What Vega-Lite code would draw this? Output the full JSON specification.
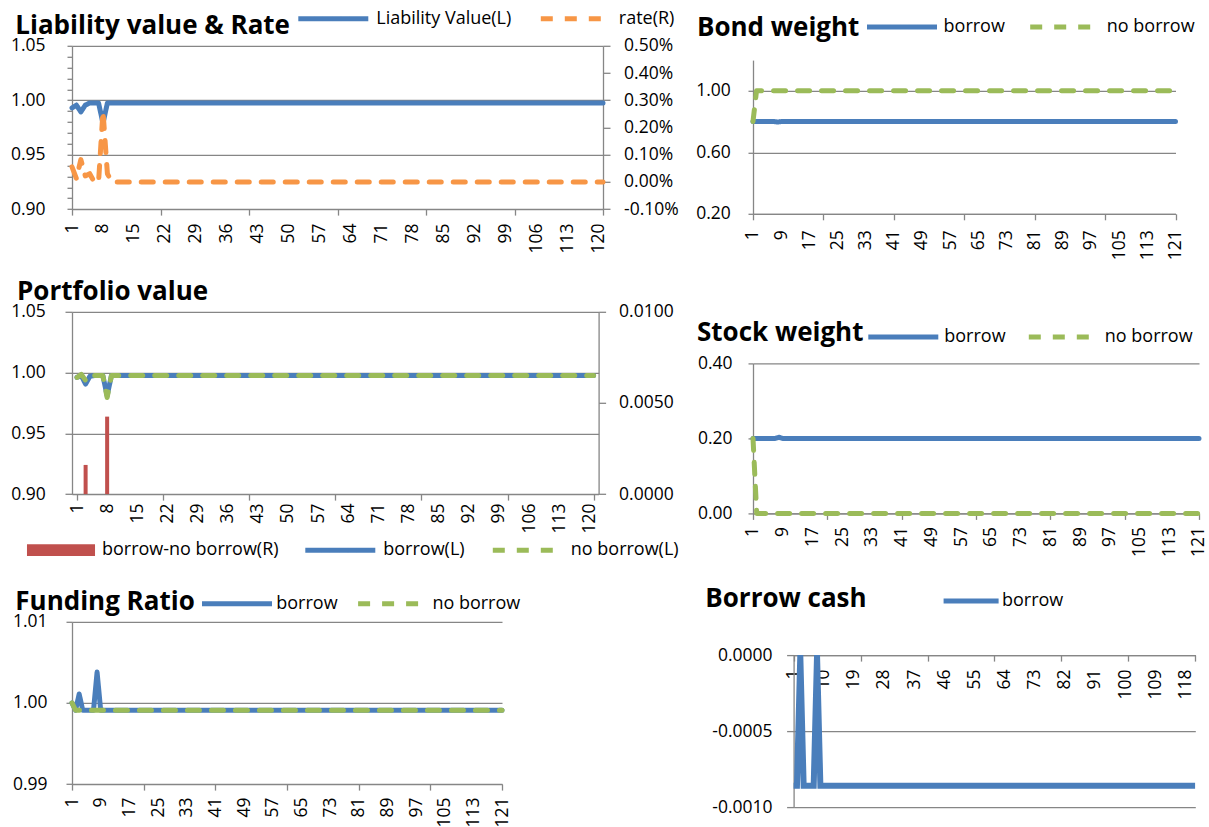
{
  "$schema": "https://vega.github.io/schema/vega-lite/v6.json",
  "background": "white",
  "padding": {"left": 10, "top": 8.8, "right": 0, "bottom": 0},
  "config": {
    "font": "Open Sans",
    "view": {"stroke": null},
    "axis": {"domainColor": "#868686", "tickColor": "#868686", "gridColor": "#868686", "domainWidth": 1.3, "tickWidth": 1.3, "gridWidth": 1.3, "labelColor": "#000000", "labelFont": "Open Sans", "labelFontSize": 17.5, "labelOverlap": false},
    "legend": {"labelColor": "#000000", "labelFont": "Open Sans", "labelFontSize": 18, "labelLimit": 0, "padding": 0, "direction": "horizontal", "orient": "none"},
    "title": {"font": "Open Sans", "fontSize": 26, "fontWeight": "bold", "color": "#000000", "anchor": "start", "frame": "group"}
  },
  "datasets": {
    "d": [
      {"t":1,"lv":0.993,"r":0.00055,"pb":0.996,"pn":0.996,"bb":0.8,"bn":0.8,"sb":0.2,"sn":0.2,"fb":1,"fn":1,"cb":-0.00086},
      {"t":2,"lv":0.9955,"r":0.00012,"pb":0.9975,"pn":0.9985,"bb":0.8,"bn":1,"sb":0.2,"sn":0,"fb":0.9991,"fn":0.9991,"cb":-0.00086},
      {"t":3,"lv":0.9893,"r":0.00082,"pb":0.9905,"pn":0.9935,"pd":0.0016,"bb":0.8,"bn":1,"sb":0.2,"sn":0,"fb":1.0011,"fn":0.9991,"cb":0},
      {"t":4,"lv":0.9955,"r":0.00022,"pb":0.997,"pn":0.9975,"bb":0.8,"bn":1,"sb":0.2,"sn":0,"fb":0.9991,"fn":0.9991,"cb":-0.00086},
      {"t":5,"lv":0.9975,"r":0.0003,"pb":0.9975,"pn":0.9975,"bb":0.8,"bn":1,"sb":0.2,"sn":0,"fb":0.9991,"fn":0.9991,"cb":-0.00086},
      {"t":6,"lv":0.9975,"r":0,"pb":0.9975,"pn":0.9975,"bb":0.8,"bn":1,"sb":0.2,"sn":0,"fb":0.9991,"fn":0.9991,"cb":-0.00086},
      {"t":7,"lv":0.9975,"r":0,"pb":0.9975,"pn":0.9975,"bb":0.8,"bn":1,"sb":0.2,"sn":0,"fb":0.9991,"fn":0.9991,"cb":-0.00086},
      {"t":8,"lv":0.9788,"r":0.0026,"pb":0.981,"pn":0.9795,"pd":0.00425,"bb":0.797,"bn":1,"sb":0.203,"sn":0,"fb":1.0038,"fn":0.9991,"cb":0},
      {"t":9,"lv":0.9975,"r":0.0003,"pb":0.9975,"pn":0.9975,"bb":0.8,"bn":1,"sb":0.2,"sn":0,"fb":0.9991,"fn":0.9991,"cb":-0.00086},
      {"t":10,"lv":0.9975,"r":0,"pb":0.9975,"pn":0.9975,"bb":0.8,"bn":1,"sb":0.2,"sn":0,"fb":0.9991,"fn":0.9991,"cb":-0.00086},
      {"t":11,"lv":0.9975,"r":0,"pb":0.9975,"pn":0.9975,"bb":0.8,"bn":1,"sb":0.2,"sn":0,"fb":0.9991,"fn":0.9991,"cb":-0.00086},
      {"t":12,"lv":0.9975,"r":0,"pb":0.9975,"pn":0.9975,"bb":0.8,"bn":1,"sb":0.2,"sn":0,"fb":0.9991,"fn":0.9991,"cb":-0.00086},
      {"t":13,"lv":0.9975,"r":0,"pb":0.9975,"pn":0.9975,"bb":0.8,"bn":1,"sb":0.2,"sn":0,"fb":0.9991,"fn":0.9991,"cb":-0.00086},
      {"t":14,"lv":0.9975,"r":0,"pb":0.9975,"pn":0.9975,"bb":0.8,"bn":1,"sb":0.2,"sn":0,"fb":0.9991,"fn":0.9991,"cb":-0.00086},
      {"t":15,"lv":0.9975,"r":0,"pb":0.9975,"pn":0.9975,"bb":0.8,"bn":1,"sb":0.2,"sn":0,"fb":0.9991,"fn":0.9991,"cb":-0.00086},
      {"t":16,"lv":0.9975,"r":0,"pb":0.9975,"pn":0.9975,"bb":0.8,"bn":1,"sb":0.2,"sn":0,"fb":0.9991,"fn":0.9991,"cb":-0.00086},
      {"t":17,"lv":0.9975,"r":0,"pb":0.9975,"pn":0.9975,"bb":0.8,"bn":1,"sb":0.2,"sn":0,"fb":0.9991,"fn":0.9991,"cb":-0.00086},
      {"t":18,"lv":0.9975,"r":0,"pb":0.9975,"pn":0.9975,"bb":0.8,"bn":1,"sb":0.2,"sn":0,"fb":0.9991,"fn":0.9991,"cb":-0.00086},
      {"t":19,"lv":0.9975,"r":0,"pb":0.9975,"pn":0.9975,"bb":0.8,"bn":1,"sb":0.2,"sn":0,"fb":0.9991,"fn":0.9991,"cb":-0.00086},
      {"t":20,"lv":0.9975,"r":0,"pb":0.9975,"pn":0.9975,"bb":0.8,"bn":1,"sb":0.2,"sn":0,"fb":0.9991,"fn":0.9991,"cb":-0.00086},
      {"t":21,"lv":0.9975,"r":0,"pb":0.9975,"pn":0.9975,"bb":0.8,"bn":1,"sb":0.2,"sn":0,"fb":0.9991,"fn":0.9991,"cb":-0.00086},
      {"t":22,"lv":0.9975,"r":0,"pb":0.9975,"pn":0.9975,"bb":0.8,"bn":1,"sb":0.2,"sn":0,"fb":0.9991,"fn":0.9991,"cb":-0.00086},
      {"t":23,"lv":0.9975,"r":0,"pb":0.9975,"pn":0.9975,"bb":0.8,"bn":1,"sb":0.2,"sn":0,"fb":0.9991,"fn":0.9991,"cb":-0.00086},
      {"t":24,"lv":0.9975,"r":0,"pb":0.9975,"pn":0.9975,"bb":0.8,"bn":1,"sb":0.2,"sn":0,"fb":0.9991,"fn":0.9991,"cb":-0.00086},
      {"t":25,"lv":0.9975,"r":0,"pb":0.9975,"pn":0.9975,"bb":0.8,"bn":1,"sb":0.2,"sn":0,"fb":0.9991,"fn":0.9991,"cb":-0.00086},
      {"t":26,"lv":0.9975,"r":0,"pb":0.9975,"pn":0.9975,"bb":0.8,"bn":1,"sb":0.2,"sn":0,"fb":0.9991,"fn":0.9991,"cb":-0.00086},
      {"t":27,"lv":0.9975,"r":0,"pb":0.9975,"pn":0.9975,"bb":0.8,"bn":1,"sb":0.2,"sn":0,"fb":0.9991,"fn":0.9991,"cb":-0.00086},
      {"t":28,"lv":0.9975,"r":0,"pb":0.9975,"pn":0.9975,"bb":0.8,"bn":1,"sb":0.2,"sn":0,"fb":0.9991,"fn":0.9991,"cb":-0.00086},
      {"t":29,"lv":0.9975,"r":0,"pb":0.9975,"pn":0.9975,"bb":0.8,"bn":1,"sb":0.2,"sn":0,"fb":0.9991,"fn":0.9991,"cb":-0.00086},
      {"t":30,"lv":0.9975,"r":0,"pb":0.9975,"pn":0.9975,"bb":0.8,"bn":1,"sb":0.2,"sn":0,"fb":0.9991,"fn":0.9991,"cb":-0.00086},
      {"t":31,"lv":0.9975,"r":0,"pb":0.9975,"pn":0.9975,"bb":0.8,"bn":1,"sb":0.2,"sn":0,"fb":0.9991,"fn":0.9991,"cb":-0.00086},
      {"t":32,"lv":0.9975,"r":0,"pb":0.9975,"pn":0.9975,"bb":0.8,"bn":1,"sb":0.2,"sn":0,"fb":0.9991,"fn":0.9991,"cb":-0.00086},
      {"t":33,"lv":0.9975,"r":0,"pb":0.9975,"pn":0.9975,"bb":0.8,"bn":1,"sb":0.2,"sn":0,"fb":0.9991,"fn":0.9991,"cb":-0.00086},
      {"t":34,"lv":0.9975,"r":0,"pb":0.9975,"pn":0.9975,"bb":0.8,"bn":1,"sb":0.2,"sn":0,"fb":0.9991,"fn":0.9991,"cb":-0.00086},
      {"t":35,"lv":0.9975,"r":0,"pb":0.9975,"pn":0.9975,"bb":0.8,"bn":1,"sb":0.2,"sn":0,"fb":0.9991,"fn":0.9991,"cb":-0.00086},
      {"t":36,"lv":0.9975,"r":0,"pb":0.9975,"pn":0.9975,"bb":0.8,"bn":1,"sb":0.2,"sn":0,"fb":0.9991,"fn":0.9991,"cb":-0.00086},
      {"t":37,"lv":0.9975,"r":0,"pb":0.9975,"pn":0.9975,"bb":0.8,"bn":1,"sb":0.2,"sn":0,"fb":0.9991,"fn":0.9991,"cb":-0.00086},
      {"t":38,"lv":0.9975,"r":0,"pb":0.9975,"pn":0.9975,"bb":0.8,"bn":1,"sb":0.2,"sn":0,"fb":0.9991,"fn":0.9991,"cb":-0.00086},
      {"t":39,"lv":0.9975,"r":0,"pb":0.9975,"pn":0.9975,"bb":0.8,"bn":1,"sb":0.2,"sn":0,"fb":0.9991,"fn":0.9991,"cb":-0.00086},
      {"t":40,"lv":0.9975,"r":0,"pb":0.9975,"pn":0.9975,"bb":0.8,"bn":1,"sb":0.2,"sn":0,"fb":0.9991,"fn":0.9991,"cb":-0.00086},
      {"t":41,"lv":0.9975,"r":0,"pb":0.9975,"pn":0.9975,"bb":0.8,"bn":1,"sb":0.2,"sn":0,"fb":0.9991,"fn":0.9991,"cb":-0.00086},
      {"t":42,"lv":0.9975,"r":0,"pb":0.9975,"pn":0.9975,"bb":0.8,"bn":1,"sb":0.2,"sn":0,"fb":0.9991,"fn":0.9991,"cb":-0.00086},
      {"t":43,"lv":0.9975,"r":0,"pb":0.9975,"pn":0.9975,"bb":0.8,"bn":1,"sb":0.2,"sn":0,"fb":0.9991,"fn":0.9991,"cb":-0.00086},
      {"t":44,"lv":0.9975,"r":0,"pb":0.9975,"pn":0.9975,"bb":0.8,"bn":1,"sb":0.2,"sn":0,"fb":0.9991,"fn":0.9991,"cb":-0.00086},
      {"t":45,"lv":0.9975,"r":0,"pb":0.9975,"pn":0.9975,"bb":0.8,"bn":1,"sb":0.2,"sn":0,"fb":0.9991,"fn":0.9991,"cb":-0.00086},
      {"t":46,"lv":0.9975,"r":0,"pb":0.9975,"pn":0.9975,"bb":0.8,"bn":1,"sb":0.2,"sn":0,"fb":0.9991,"fn":0.9991,"cb":-0.00086},
      {"t":47,"lv":0.9975,"r":0,"pb":0.9975,"pn":0.9975,"bb":0.8,"bn":1,"sb":0.2,"sn":0,"fb":0.9991,"fn":0.9991,"cb":-0.00086},
      {"t":48,"lv":0.9975,"r":0,"pb":0.9975,"pn":0.9975,"bb":0.8,"bn":1,"sb":0.2,"sn":0,"fb":0.9991,"fn":0.9991,"cb":-0.00086},
      {"t":49,"lv":0.9975,"r":0,"pb":0.9975,"pn":0.9975,"bb":0.8,"bn":1,"sb":0.2,"sn":0,"fb":0.9991,"fn":0.9991,"cb":-0.00086},
      {"t":50,"lv":0.9975,"r":0,"pb":0.9975,"pn":0.9975,"bb":0.8,"bn":1,"sb":0.2,"sn":0,"fb":0.9991,"fn":0.9991,"cb":-0.00086},
      {"t":51,"lv":0.9975,"r":0,"pb":0.9975,"pn":0.9975,"bb":0.8,"bn":1,"sb":0.2,"sn":0,"fb":0.9991,"fn":0.9991,"cb":-0.00086},
      {"t":52,"lv":0.9975,"r":0,"pb":0.9975,"pn":0.9975,"bb":0.8,"bn":1,"sb":0.2,"sn":0,"fb":0.9991,"fn":0.9991,"cb":-0.00086},
      {"t":53,"lv":0.9975,"r":0,"pb":0.9975,"pn":0.9975,"bb":0.8,"bn":1,"sb":0.2,"sn":0,"fb":0.9991,"fn":0.9991,"cb":-0.00086},
      {"t":54,"lv":0.9975,"r":0,"pb":0.9975,"pn":0.9975,"bb":0.8,"bn":1,"sb":0.2,"sn":0,"fb":0.9991,"fn":0.9991,"cb":-0.00086},
      {"t":55,"lv":0.9975,"r":0,"pb":0.9975,"pn":0.9975,"bb":0.8,"bn":1,"sb":0.2,"sn":0,"fb":0.9991,"fn":0.9991,"cb":-0.00086},
      {"t":56,"lv":0.9975,"r":0,"pb":0.9975,"pn":0.9975,"bb":0.8,"bn":1,"sb":0.2,"sn":0,"fb":0.9991,"fn":0.9991,"cb":-0.00086},
      {"t":57,"lv":0.9975,"r":0,"pb":0.9975,"pn":0.9975,"bb":0.8,"bn":1,"sb":0.2,"sn":0,"fb":0.9991,"fn":0.9991,"cb":-0.00086},
      {"t":58,"lv":0.9975,"r":0,"pb":0.9975,"pn":0.9975,"bb":0.8,"bn":1,"sb":0.2,"sn":0,"fb":0.9991,"fn":0.9991,"cb":-0.00086},
      {"t":59,"lv":0.9975,"r":0,"pb":0.9975,"pn":0.9975,"bb":0.8,"bn":1,"sb":0.2,"sn":0,"fb":0.9991,"fn":0.9991,"cb":-0.00086},
      {"t":60,"lv":0.9975,"r":0,"pb":0.9975,"pn":0.9975,"bb":0.8,"bn":1,"sb":0.2,"sn":0,"fb":0.9991,"fn":0.9991,"cb":-0.00086},
      {"t":61,"lv":0.9975,"r":0,"pb":0.9975,"pn":0.9975,"bb":0.8,"bn":1,"sb":0.2,"sn":0,"fb":0.9991,"fn":0.9991,"cb":-0.00086},
      {"t":62,"lv":0.9975,"r":0,"pb":0.9975,"pn":0.9975,"bb":0.8,"bn":1,"sb":0.2,"sn":0,"fb":0.9991,"fn":0.9991,"cb":-0.00086},
      {"t":63,"lv":0.9975,"r":0,"pb":0.9975,"pn":0.9975,"bb":0.8,"bn":1,"sb":0.2,"sn":0,"fb":0.9991,"fn":0.9991,"cb":-0.00086},
      {"t":64,"lv":0.9975,"r":0,"pb":0.9975,"pn":0.9975,"bb":0.8,"bn":1,"sb":0.2,"sn":0,"fb":0.9991,"fn":0.9991,"cb":-0.00086},
      {"t":65,"lv":0.9975,"r":0,"pb":0.9975,"pn":0.9975,"bb":0.8,"bn":1,"sb":0.2,"sn":0,"fb":0.9991,"fn":0.9991,"cb":-0.00086},
      {"t":66,"lv":0.9975,"r":0,"pb":0.9975,"pn":0.9975,"bb":0.8,"bn":1,"sb":0.2,"sn":0,"fb":0.9991,"fn":0.9991,"cb":-0.00086},
      {"t":67,"lv":0.9975,"r":0,"pb":0.9975,"pn":0.9975,"bb":0.8,"bn":1,"sb":0.2,"sn":0,"fb":0.9991,"fn":0.9991,"cb":-0.00086},
      {"t":68,"lv":0.9975,"r":0,"pb":0.9975,"pn":0.9975,"bb":0.8,"bn":1,"sb":0.2,"sn":0,"fb":0.9991,"fn":0.9991,"cb":-0.00086},
      {"t":69,"lv":0.9975,"r":0,"pb":0.9975,"pn":0.9975,"bb":0.8,"bn":1,"sb":0.2,"sn":0,"fb":0.9991,"fn":0.9991,"cb":-0.00086},
      {"t":70,"lv":0.9975,"r":0,"pb":0.9975,"pn":0.9975,"bb":0.8,"bn":1,"sb":0.2,"sn":0,"fb":0.9991,"fn":0.9991,"cb":-0.00086},
      {"t":71,"lv":0.9975,"r":0,"pb":0.9975,"pn":0.9975,"bb":0.8,"bn":1,"sb":0.2,"sn":0,"fb":0.9991,"fn":0.9991,"cb":-0.00086},
      {"t":72,"lv":0.9975,"r":0,"pb":0.9975,"pn":0.9975,"bb":0.8,"bn":1,"sb":0.2,"sn":0,"fb":0.9991,"fn":0.9991,"cb":-0.00086},
      {"t":73,"lv":0.9975,"r":0,"pb":0.9975,"pn":0.9975,"bb":0.8,"bn":1,"sb":0.2,"sn":0,"fb":0.9991,"fn":0.9991,"cb":-0.00086},
      {"t":74,"lv":0.9975,"r":0,"pb":0.9975,"pn":0.9975,"bb":0.8,"bn":1,"sb":0.2,"sn":0,"fb":0.9991,"fn":0.9991,"cb":-0.00086},
      {"t":75,"lv":0.9975,"r":0,"pb":0.9975,"pn":0.9975,"bb":0.8,"bn":1,"sb":0.2,"sn":0,"fb":0.9991,"fn":0.9991,"cb":-0.00086},
      {"t":76,"lv":0.9975,"r":0,"pb":0.9975,"pn":0.9975,"bb":0.8,"bn":1,"sb":0.2,"sn":0,"fb":0.9991,"fn":0.9991,"cb":-0.00086},
      {"t":77,"lv":0.9975,"r":0,"pb":0.9975,"pn":0.9975,"bb":0.8,"bn":1,"sb":0.2,"sn":0,"fb":0.9991,"fn":0.9991,"cb":-0.00086},
      {"t":78,"lv":0.9975,"r":0,"pb":0.9975,"pn":0.9975,"bb":0.8,"bn":1,"sb":0.2,"sn":0,"fb":0.9991,"fn":0.9991,"cb":-0.00086},
      {"t":79,"lv":0.9975,"r":0,"pb":0.9975,"pn":0.9975,"bb":0.8,"bn":1,"sb":0.2,"sn":0,"fb":0.9991,"fn":0.9991,"cb":-0.00086},
      {"t":80,"lv":0.9975,"r":0,"pb":0.9975,"pn":0.9975,"bb":0.8,"bn":1,"sb":0.2,"sn":0,"fb":0.9991,"fn":0.9991,"cb":-0.00086},
      {"t":81,"lv":0.9975,"r":0,"pb":0.9975,"pn":0.9975,"bb":0.8,"bn":1,"sb":0.2,"sn":0,"fb":0.9991,"fn":0.9991,"cb":-0.00086},
      {"t":82,"lv":0.9975,"r":0,"pb":0.9975,"pn":0.9975,"bb":0.8,"bn":1,"sb":0.2,"sn":0,"fb":0.9991,"fn":0.9991,"cb":-0.00086},
      {"t":83,"lv":0.9975,"r":0,"pb":0.9975,"pn":0.9975,"bb":0.8,"bn":1,"sb":0.2,"sn":0,"fb":0.9991,"fn":0.9991,"cb":-0.00086},
      {"t":84,"lv":0.9975,"r":0,"pb":0.9975,"pn":0.9975,"bb":0.8,"bn":1,"sb":0.2,"sn":0,"fb":0.9991,"fn":0.9991,"cb":-0.00086},
      {"t":85,"lv":0.9975,"r":0,"pb":0.9975,"pn":0.9975,"bb":0.8,"bn":1,"sb":0.2,"sn":0,"fb":0.9991,"fn":0.9991,"cb":-0.00086},
      {"t":86,"lv":0.9975,"r":0,"pb":0.9975,"pn":0.9975,"bb":0.8,"bn":1,"sb":0.2,"sn":0,"fb":0.9991,"fn":0.9991,"cb":-0.00086},
      {"t":87,"lv":0.9975,"r":0,"pb":0.9975,"pn":0.9975,"bb":0.8,"bn":1,"sb":0.2,"sn":0,"fb":0.9991,"fn":0.9991,"cb":-0.00086},
      {"t":88,"lv":0.9975,"r":0,"pb":0.9975,"pn":0.9975,"bb":0.8,"bn":1,"sb":0.2,"sn":0,"fb":0.9991,"fn":0.9991,"cb":-0.00086},
      {"t":89,"lv":0.9975,"r":0,"pb":0.9975,"pn":0.9975,"bb":0.8,"bn":1,"sb":0.2,"sn":0,"fb":0.9991,"fn":0.9991,"cb":-0.00086},
      {"t":90,"lv":0.9975,"r":0,"pb":0.9975,"pn":0.9975,"bb":0.8,"bn":1,"sb":0.2,"sn":0,"fb":0.9991,"fn":0.9991,"cb":-0.00086},
      {"t":91,"lv":0.9975,"r":0,"pb":0.9975,"pn":0.9975,"bb":0.8,"bn":1,"sb":0.2,"sn":0,"fb":0.9991,"fn":0.9991,"cb":-0.00086},
      {"t":92,"lv":0.9975,"r":0,"pb":0.9975,"pn":0.9975,"bb":0.8,"bn":1,"sb":0.2,"sn":0,"fb":0.9991,"fn":0.9991,"cb":-0.00086},
      {"t":93,"lv":0.9975,"r":0,"pb":0.9975,"pn":0.9975,"bb":0.8,"bn":1,"sb":0.2,"sn":0,"fb":0.9991,"fn":0.9991,"cb":-0.00086},
      {"t":94,"lv":0.9975,"r":0,"pb":0.9975,"pn":0.9975,"bb":0.8,"bn":1,"sb":0.2,"sn":0,"fb":0.9991,"fn":0.9991,"cb":-0.00086},
      {"t":95,"lv":0.9975,"r":0,"pb":0.9975,"pn":0.9975,"bb":0.8,"bn":1,"sb":0.2,"sn":0,"fb":0.9991,"fn":0.9991,"cb":-0.00086},
      {"t":96,"lv":0.9975,"r":0,"pb":0.9975,"pn":0.9975,"bb":0.8,"bn":1,"sb":0.2,"sn":0,"fb":0.9991,"fn":0.9991,"cb":-0.00086},
      {"t":97,"lv":0.9975,"r":0,"pb":0.9975,"pn":0.9975,"bb":0.8,"bn":1,"sb":0.2,"sn":0,"fb":0.9991,"fn":0.9991,"cb":-0.00086},
      {"t":98,"lv":0.9975,"r":0,"pb":0.9975,"pn":0.9975,"bb":0.8,"bn":1,"sb":0.2,"sn":0,"fb":0.9991,"fn":0.9991,"cb":-0.00086},
      {"t":99,"lv":0.9975,"r":0,"pb":0.9975,"pn":0.9975,"bb":0.8,"bn":1,"sb":0.2,"sn":0,"fb":0.9991,"fn":0.9991,"cb":-0.00086},
      {"t":100,"lv":0.9975,"r":0,"pb":0.9975,"pn":0.9975,"bb":0.8,"bn":1,"sb":0.2,"sn":0,"fb":0.9991,"fn":0.9991,"cb":-0.00086},
      {"t":101,"lv":0.9975,"r":0,"pb":0.9975,"pn":0.9975,"bb":0.8,"bn":1,"sb":0.2,"sn":0,"fb":0.9991,"fn":0.9991,"cb":-0.00086},
      {"t":102,"lv":0.9975,"r":0,"pb":0.9975,"pn":0.9975,"bb":0.8,"bn":1,"sb":0.2,"sn":0,"fb":0.9991,"fn":0.9991,"cb":-0.00086},
      {"t":103,"lv":0.9975,"r":0,"pb":0.9975,"pn":0.9975,"bb":0.8,"bn":1,"sb":0.2,"sn":0,"fb":0.9991,"fn":0.9991,"cb":-0.00086},
      {"t":104,"lv":0.9975,"r":0,"pb":0.9975,"pn":0.9975,"bb":0.8,"bn":1,"sb":0.2,"sn":0,"fb":0.9991,"fn":0.9991,"cb":-0.00086},
      {"t":105,"lv":0.9975,"r":0,"pb":0.9975,"pn":0.9975,"bb":0.8,"bn":1,"sb":0.2,"sn":0,"fb":0.9991,"fn":0.9991,"cb":-0.00086},
      {"t":106,"lv":0.9975,"r":0,"pb":0.9975,"pn":0.9975,"bb":0.8,"bn":1,"sb":0.2,"sn":0,"fb":0.9991,"fn":0.9991,"cb":-0.00086},
      {"t":107,"lv":0.9975,"r":0,"pb":0.9975,"pn":0.9975,"bb":0.8,"bn":1,"sb":0.2,"sn":0,"fb":0.9991,"fn":0.9991,"cb":-0.00086},
      {"t":108,"lv":0.9975,"r":0,"pb":0.9975,"pn":0.9975,"bb":0.8,"bn":1,"sb":0.2,"sn":0,"fb":0.9991,"fn":0.9991,"cb":-0.00086},
      {"t":109,"lv":0.9975,"r":0,"pb":0.9975,"pn":0.9975,"bb":0.8,"bn":1,"sb":0.2,"sn":0,"fb":0.9991,"fn":0.9991,"cb":-0.00086},
      {"t":110,"lv":0.9975,"r":0,"pb":0.9975,"pn":0.9975,"bb":0.8,"bn":1,"sb":0.2,"sn":0,"fb":0.9991,"fn":0.9991,"cb":-0.00086},
      {"t":111,"lv":0.9975,"r":0,"pb":0.9975,"pn":0.9975,"bb":0.8,"bn":1,"sb":0.2,"sn":0,"fb":0.9991,"fn":0.9991,"cb":-0.00086},
      {"t":112,"lv":0.9975,"r":0,"pb":0.9975,"pn":0.9975,"bb":0.8,"bn":1,"sb":0.2,"sn":0,"fb":0.9991,"fn":0.9991,"cb":-0.00086},
      {"t":113,"lv":0.9975,"r":0,"pb":0.9975,"pn":0.9975,"bb":0.8,"bn":1,"sb":0.2,"sn":0,"fb":0.9991,"fn":0.9991,"cb":-0.00086},
      {"t":114,"lv":0.9975,"r":0,"pb":0.9975,"pn":0.9975,"bb":0.8,"bn":1,"sb":0.2,"sn":0,"fb":0.9991,"fn":0.9991,"cb":-0.00086},
      {"t":115,"lv":0.9975,"r":0,"pb":0.9975,"pn":0.9975,"bb":0.8,"bn":1,"sb":0.2,"sn":0,"fb":0.9991,"fn":0.9991,"cb":-0.00086},
      {"t":116,"lv":0.9975,"r":0,"pb":0.9975,"pn":0.9975,"bb":0.8,"bn":1,"sb":0.2,"sn":0,"fb":0.9991,"fn":0.9991,"cb":-0.00086},
      {"t":117,"lv":0.9975,"r":0,"pb":0.9975,"pn":0.9975,"bb":0.8,"bn":1,"sb":0.2,"sn":0,"fb":0.9991,"fn":0.9991,"cb":-0.00086},
      {"t":118,"lv":0.9975,"r":0,"pb":0.9975,"pn":0.9975,"bb":0.8,"bn":1,"sb":0.2,"sn":0,"fb":0.9991,"fn":0.9991,"cb":-0.00086},
      {"t":119,"lv":0.9975,"r":0,"pb":0.9975,"pn":0.9975,"bb":0.8,"bn":1,"sb":0.2,"sn":0,"fb":0.9991,"fn":0.9991,"cb":-0.00086},
      {"t":120,"lv":0.9975,"r":0,"pb":0.9975,"pn":0.9975,"bb":0.8,"bn":1,"sb":0.2,"sn":0,"fb":0.9991,"fn":0.9991,"cb":-0.00086},
      {"t":121,"lv":0.9975,"r":0,"pb":0.9975,"pn":0.9975,"bb":0.8,"bn":1,"sb":0.2,"sn":0,"fb":0.9991,"fn":0.9991,"cb":-0.00086}
    ]
  },
  "spacing": 14,
  "resolve": {"scale": {"color": "independent", "strokeDash": "independent"}},
  "hconcat": [
    {
      "spacing": 25,
      "resolve": {"scale": {"color": "independent", "strokeDash": "independent"}},
      "vconcat": [
        {
          "width": 531, "height": 163.3,
          "data": {"name": "d"},
          "title": {"text": "Liability value & Rate", "offset": -30, "dx": -56.7},
          "encoding": {
            "x": {"field": "t", "type": "quantitative", "title": null, "scale": {"domain": [1, 121], "nice": false, "zero": false},
              "axis": {"values": [1,8,15,21,22,29,36,41,43,50,57,61,64,71,78,81,85,92,99,101,106,113,120,121], "format": "d", "labelAngle": 270, "labelExpr": "datum.value % 7 == 1 ? datum.label : ''", "tickOpacity": {"condition": {"test": "datum.value % 20 == 1", "value": 1}, "value": 0}, "tickSize": 6, "labelPadding": 8, "grid": false, "labelFlush": false}}
          },
          "layer": [
            {
              "transform": [{"fold": ["lv"], "as": ["k", "v"]}],
              "mark": {"type": "line", "strokeWidth": 5, "strokeCap": "round", "strokeJoin": "round"},
              "encoding": {
                "y": {"field": "v", "type": "quantitative", "title": null, "scale": {"domain": [0.9, 1.05], "nice": false, "zero": false},
                  "axis": {"values": [0.9,0.91,0.92,0.93,0.94,0.95,0.96,0.97,0.98,0.99,1,1.01,1.02,1.03,1.04,1.05], "format": ".2f", "labelExpr": "abs(datum.value*20-round(datum.value*20)) < 0.001 ? datum.label : ''", "grid": true, "gridOpacity": {"condition": {"test": "abs(datum.value*20-round(datum.value*20)) < 0.001", "value": 1}, "value": 0}, "tickSize": 5, "labelPadding": 22, "minExtent": 61.7}},
                "color": {"field": "k", "type": "nominal", "title": null, "scale": {"domain": ["lv", "r"], "range": ["#4A7EBB", "#F79646"]},
                  "legend": {"legendX": 251.8, "legendY": -36.9, "symbolType": "M-5,0H5", "symbolSize": 196, "symbolStrokeWidth": 5, "labelOffset": 33.5, "columnPadding": 18.5, "labelExpr": "datum.label == 'lv' ? 'Liability Value(L)' : 'rate(R)'"}},
                "strokeDash": {"field": "k", "type": "nominal", "title": null, "scale": {"domain": ["lv", "r"], "range": [[1, 0], [12, 12]]},
                  "legend": {"legendX": 251.8, "legendY": -36.9, "symbolType": "M-5,0H5", "symbolSize": 196, "symbolStrokeWidth": 5, "labelOffset": 33.5, "columnPadding": 18.5, "labelExpr": "datum.label == 'lv' ? 'Liability Value(L)' : 'rate(R)'"}}
              }
            },
            {
              "transform": [{"fold": ["r"], "as": ["k", "v"]}],
              "mark": {"type": "line", "strokeWidth": 5, "strokeCap": "round", "strokeJoin": "round"},
              "encoding": {
                "y": {"field": "v", "type": "quantitative", "title": null, "scale": {"domain": [-0.001, 0.005], "nice": false, "zero": false},
                  "axis": {"orient": "right", "values": [-0.001,0,0.001,0.002,0.003,0.004,0.005], "format": ".2%", "labelExpr": "replace(datum.label, '−', '-')", "grid": false, "tickSize": 7, "labelPadding": 13.6, "minExtent": 78}},
                "color": {"field": "k", "type": "nominal", "title": null, "scale": {"domain": ["lv", "r"], "range": ["#4A7EBB", "#F79646"]},
                  "legend": {"legendX": 251.8, "legendY": -36.9, "symbolType": "M-5,0H5", "symbolSize": 196, "symbolStrokeWidth": 5, "labelOffset": 33.5, "columnPadding": 18.5, "labelExpr": "datum.label == 'lv' ? 'Liability Value(L)' : 'rate(R)'"}},
                "strokeDash": {"field": "k", "type": "nominal", "title": null, "scale": {"domain": ["lv", "r"], "range": [[1, 0], [12, 12]]},
                  "legend": {"legendX": 251.8, "legendY": -36.9, "symbolType": "M-5,0H5", "symbolSize": 196, "symbolStrokeWidth": 5, "labelOffset": 33.5, "columnPadding": 18.5, "labelExpr": "datum.label == 'lv' ? 'Liability Value(L)' : 'rate(R)'"}}
              }
            }
          ],
          "resolve": {"scale": {"y": "independent"}}
        },
        {
          "spacing": 28,
          "resolve": {"scale": {"color": "independent", "strokeDash": "independent"}},
          "vconcat": [
            {
              "width": 526.6, "height": 182.3,
              "data": {"name": "d"},
              "title": {"text": "Portfolio value", "offset": -2.55, "dx": -55},
              "encoding": {
                "x": {"field": "t", "type": "quantitative", "title": null, "scale": {"domain": [1, 121], "nice": false, "zero": false},
                  "axis": {"values": [1,8,15,21,22,29,36,41,43,50,57,61,64,71,78,81,85,92,99,101,106,113,120,121], "format": "d", "labelAngle": 270, "labelExpr": "datum.value % 7 == 1 ? datum.label : ''", "tickOpacity": {"condition": {"test": "datum.value % 20 == 1", "value": 1}, "value": 0}, "tickSize": 6, "labelPadding": 3, "grid": false, "labelFlush": false}}
              },
              "layer": [
                {
                  "transform": [{"filter": "datum.pd != null"}, {"fold": ["pd"], "as": ["k", "v"]}],
                  "mark": {"type": "bar", "width": 4},
                  "encoding": {
                    "y": {"field": "v", "type": "quantitative", "title": null, "scale": {"domain": [0, 0.01], "nice": false},
                      "axis": {"orient": "right", "values": [0, 0.005, 0.01], "format": ".4f", "grid": false, "tickSize": 7, "labelPadding": 13, "minExtent": 78}},
                    "color": {"field": "k", "type": "nominal", "title": null, "scale": {"domain": ["pd"], "range": ["#C0504D"]},
                      "legend": {"legendX": -20, "legendY": 229.3, "symbolType": "M-4.86,-0.83H4.86V0.83H-4.86Z", "symbolSize": 196, "symbolStrokeWidth": 0, "labelOffset": 32, "labelExpr": "'borrow-no borrow(R)'"}}
                  }
                },
                {
                  "transform": [{"fold": ["pb", "pn"], "as": ["k", "v"]}],
                  "mark": {"type": "line", "strokeWidth": 5, "strokeCap": "round", "strokeJoin": "round"},
                  "encoding": {
                    "y": {"field": "v", "type": "quantitative", "title": null, "scale": {"domain": [0.9, 1.05], "nice": false, "zero": false},
                      "axis": {"values": [0.9, 0.95, 1, 1.05], "format": ".2f", "grid": true, "tickSize": 7, "labelPadding": 19.7, "minExtent": 61.7}},
                    "color": {"field": "k", "type": "nominal", "title": null, "scale": {"domain": ["pb", "pn"], "range": ["#4A7EBB", "#9BBB59"]},
                      "legend": {"legendX": 258.8, "legendY": 228.8, "symbolType": "M-5,0H5", "symbolSize": 196, "symbolStrokeWidth": 5, "labelOffset": 33.5, "columnPadding": 17.5, "labelExpr": "datum.label == 'pb' ? 'borrow(L)' : 'no borrow(L)'"}},
                    "strokeDash": {"field": "k", "type": "nominal", "title": null, "scale": {"domain": ["pb", "pn"], "range": [[1, 0], [12, 12]]},
                      "legend": {"legendX": 258.8, "legendY": 228.8, "symbolType": "M-5,0H5", "symbolSize": 196, "symbolStrokeWidth": 5, "labelOffset": 33.5, "columnPadding": 17.5, "labelExpr": "datum.label == 'pb' ? 'borrow(L)' : 'no borrow(L)'"}}
                  }
                }
              ],
              "resolve": {"scale": {"y": "independent", "color": "independent", "strokeDash": "independent"}}
            },
            {
              "width": 430, "height": 162.3,
              "data": {"name": "d"},
              "title": {"text": "Funding Ratio", "offset": -21, "dx": -56.7},
              "transform": [{"fold": ["fb", "fn"], "as": ["k", "v"]}],
              "mark": {"type": "line", "strokeWidth": 5, "strokeCap": "round", "strokeJoin": "round"},
              "encoding": {
                "x": {"field": "t", "type": "quantitative", "title": null, "scale": {"domain": [1, 121], "nice": false, "zero": false},
                  "axis": {"values": [1,9,17,21,25,33,41,49,57,61,65,73,81,89,97,101,105,113,121], "format": "d", "labelAngle": 270, "labelExpr": "datum.value % 8 == 1 ? datum.label : ''", "tickOpacity": {"condition": {"test": "datum.value % 20 == 1", "value": 1}, "value": 0}, "tickSize": 6, "labelPadding": 7, "grid": false, "labelFlush": false}},
                "y": {"field": "v", "type": "quantitative", "title": null, "scale": {"domain": [0.99, 1.01], "nice": false, "zero": false},
                  "axis": {"values": [0.99, 1, 1.01], "format": ".2f", "grid": true, "tickSize": 6, "labelPadding": 19, "minExtent": 60}},
                "color": {"field": "k", "type": "nominal", "title": null, "scale": {"domain": ["fb", "fn"], "range": ["#4A7EBB", "#9BBB59"]},
                  "legend": {"legendX": 155.5, "legendY": -27.9, "symbolType": "M-5,0H5", "symbolSize": 196, "symbolStrokeWidth": 5, "labelOffset": 29.8, "columnPadding": 9.1, "labelExpr": "datum.label == 'fb' ? 'borrow' : 'no borrow'"}},
                "strokeDash": {"field": "k", "type": "nominal", "title": null, "scale": {"domain": ["fb", "fn"], "range": [[1, 0], [12, 12]]},
                  "legend": {"legendX": 155.5, "legendY": -27.9, "symbolType": "M-5,0H5", "symbolSize": 196, "symbolStrokeWidth": 5, "labelOffset": 29.8, "columnPadding": 9.1, "labelExpr": "datum.label == 'fb' ? 'borrow' : 'no borrow'"}}
              }
            }
          ]
        }
      ]
    },
    {
      "spacing": 58.6,
      "resolve": {"scale": {"color": "independent", "strokeDash": "independent"}},
      "vconcat": [
        {
          "width": 422.5, "height": 168,
          "data": {"name": "d"},
          "title": {"text": "Bond weight", "offset": -23.3, "dx": -56},
          "transform": [{"fold": ["bb", "bn"], "as": ["k", "v"]}],
          "mark": {"type": "line", "strokeWidth": 5, "strokeCap": "round", "strokeJoin": "round"},
          "encoding": {
            "x": {"field": "t", "type": "quantitative", "title": null, "scale": {"domain": [1, 121], "nice": false, "zero": false},
              "axis": {"values": [1,9,17,21,25,33,41,49,57,61,65,73,81,89,97,101,105,113,121], "format": "d", "labelAngle": 270, "labelExpr": "datum.value % 8 == 1 ? datum.label : ''", "tickOpacity": {"condition": {"test": "datum.value % 20 == 1", "value": 1}, "value": 0}, "tickSize": 6, "labelPadding": 10, "grid": false, "labelFlush": false}},
            "y": {"field": "v", "type": "quantitative", "title": null, "scale": {"domain": [0.2, 1.2], "nice": false, "zero": false, "range": [168, 14.3]},
              "axis": {"values": [0.2, 0.6, 1.0], "format": ".2f", "grid": true, "tickSize": 5, "labelPadding": 17.7, "minExtent": 58}},
            "color": {"field": "k", "type": "nominal", "title": null, "scale": {"domain": ["bb", "bn"], "range": ["#4A7EBB", "#9BBB59"]},
              "legend": {"legendX": 139.5, "legendY": -28.5, "symbolType": "M-5,0H5", "symbolSize": 196, "symbolStrokeWidth": 5, "labelOffset": 32.1, "columnPadding": 14.2, "labelExpr": "datum.label == 'bb' ? 'borrow' : 'no borrow'"}},
            "strokeDash": {"field": "k", "type": "nominal", "title": null, "scale": {"domain": ["bb", "bn"], "range": [[1, 0], [12, 12]]},
              "legend": {"legendX": 139.5, "legendY": -28.5, "symbolType": "M-5,0H5", "symbolSize": 196, "symbolStrokeWidth": 5, "labelOffset": 32.1, "columnPadding": 14.2, "labelExpr": "datum.label == 'bb' ? 'borrow' : 'no borrow'"}}
          }
        },
        {
          "spacing": 27.7,
          "resolve": {"scale": {"color": "independent", "strokeDash": "independent"}},
          "vconcat": [
            {
              "width": 446, "height": 150,
              "data": {"name": "d"},
              "title": {"text": "Stock weight", "offset": -18.3, "dx": -56},
              "transform": [{"fold": ["sb", "sn"], "as": ["k", "v"]}],
              "mark": {"type": "line", "strokeWidth": 5, "strokeCap": "round", "strokeJoin": "round"},
              "encoding": {
                "x": {"field": "t", "type": "quantitative", "title": null, "scale": {"domain": [1, 121], "nice": false, "zero": false},
                  "axis": {"values": [1,9,17,21,25,33,41,49,57,61,65,73,81,89,97,101,105,113,121], "format": "d", "labelAngle": 270, "labelExpr": "datum.value % 8 == 1 ? datum.label : ''", "tickOpacity": {"condition": {"test": "datum.value % 20 == 1", "value": 1}, "value": 0}, "tickSize": 6, "labelPadding": 7, "grid": false, "labelFlush": false}},
                "y": {"field": "v", "type": "quantitative", "title": null, "scale": {"domain": [0, 0.4], "nice": false, "zero": false},
                  "axis": {"values": [0, 0.2, 0.4], "format": ".2f", "grid": true, "tickSize": 5, "labelPadding": 16, "minExtent": 58}},
                "color": {"field": "k", "type": "nominal", "title": null, "scale": {"domain": ["sb", "sn"], "range": ["#4A7EBB", "#9BBB59"]},
                  "legend": {"legendX": 140.8, "legendY": -36.1, "symbolType": "M-5,0H5", "symbolSize": 196, "symbolStrokeWidth": 5, "labelOffset": 31.5, "columnPadding": 12.5, "labelExpr": "datum.label == 'sb' ? 'borrow' : 'no borrow'"}},
                "strokeDash": {"field": "k", "type": "nominal", "title": null, "scale": {"domain": ["sb", "sn"], "range": [[1, 0], [12, 12]]},
                  "legend": {"legendX": 140.8, "legendY": -36.1, "symbolType": "M-5,0H5", "symbolSize": 196, "symbolStrokeWidth": 5, "labelOffset": 31.5, "columnPadding": 12.5, "labelExpr": "datum.label == 'sb' ? 'borrow' : 'no borrow'"}}
              }
            },
            {
              "width": 442.3, "height": 152,
              "data": {"name": "d"},
              "title": {"text": "Borrow cash", "offset": -20, "dx": -47.7},
              "transform": [{"fold": ["cb"], "as": ["k", "v"]}],
              "mark": {"type": "line", "strokeWidth": 6, "strokeJoin": "miter", "clip": true},
              "encoding": {
                "x": {"field": "t", "type": "quantitative", "title": null, "scale": {"domain": [1, 121], "nice": false, "zero": false, "range": [40.6, 442.3]},
                  "axis": {"values": [1,10,19,21,28,37,41,46,55,61,64,73,81,82,91,100,101,109,118,121], "format": "d", "labelAngle": 270, "labelExpr": "datum.value % 9 == 1 ? datum.label : ''", "tickOpacity": {"condition": {"test": "datum.value % 20 == 1", "value": 1}, "value": 0}, "tickSize": 6, "labelPadding": 8, "offset": -152, "grid": false, "labelFlush": false}},
                "y": {"field": "v", "type": "quantitative", "title": null, "scale": {"domain": [-0.001, 0], "nice": false, "zero": false},
                  "axis": {"values": [-0.001, -0.0005, 0], "format": ".4f", "labelExpr": "replace(datum.label, '−', '-')", "grid": true, "tickSize": 7, "labelPadding": 14.6, "offset": -40.6}},
                "color": {"field": "k", "type": "nominal", "title": null, "scale": {"domain": ["cb"], "range": ["#4A7EBB"]},
                  "legend": {"legendX": 208.6, "legendY": -63.5, "symbolType": "M-3.93,0H3.93", "symbolSize": 196, "symbolStrokeWidth": 5, "labelOffset": 21.4, "labelExpr": "'borrow'"}}
              }
            }
          ]
        }
      ]
    }
  ]
}
